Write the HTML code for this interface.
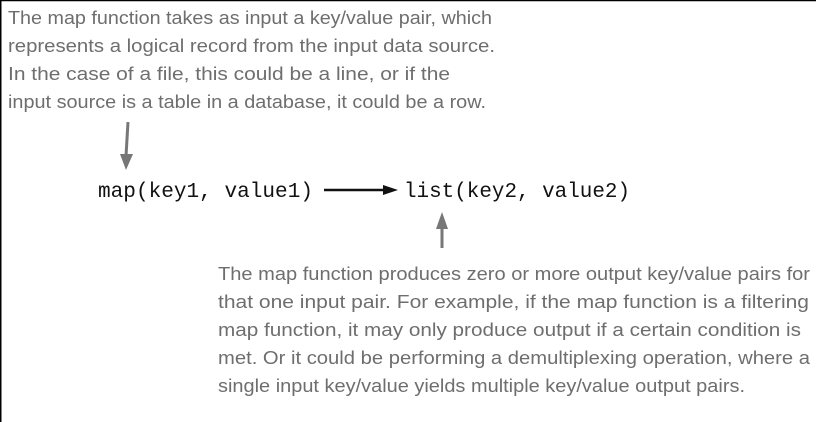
<!DOCTYPE html>
<html><head><style>
html,body{margin:0;padding:0;background:#fff;}
svg{display:block;}
.h{font-family:"Liberation Sans",sans-serif;font-size:18px;fill:#6e6e6e;}
.m{font-family:"Liberation Mono",monospace;font-size:21px;fill:#111;}
</style></head><body>
<svg width="816" height="422" viewBox="0 0 816 422" xmlns="http://www.w3.org/2000/svg">
<line x1="0" y1="0.5" x2="816" y2="0.5" stroke="#000" stroke-width="1.5"/>
<line x1="0.75" y1="0" x2="0.75" y2="422" stroke="#000" stroke-width="1.5"/>
<text class="h" x="8" y="24" textLength="484" lengthAdjust="spacingAndGlyphs">The map function takes as input a key/value pair, which</text>
<text class="h" x="8" y="52" textLength="487" lengthAdjust="spacingAndGlyphs">represents a logical record from the input data source.</text>
<text class="h" x="8" y="80" textLength="442" lengthAdjust="spacingAndGlyphs">In the case of a file, this could be a line, or if the</text>
<text class="h" x="8" y="108" textLength="478" lengthAdjust="spacingAndGlyphs">input source is a table in a database, it could be a row.</text>
<line x1="128" y1="122" x2="126" y2="156" stroke="#777" stroke-width="3"/>
<polygon points="120,154 133,154 126,170" fill="#777"/>
<text class="m" x="98" y="197" textLength="215" lengthAdjust="spacingAndGlyphs">map(key1, value1)</text>
<line x1="324" y1="190" x2="386" y2="190" stroke="#111" stroke-width="2.5"/>
<polygon points="383,185 398,190 383,195" fill="#111"/>
<text class="m" x="404" y="197" textLength="226" lengthAdjust="spacingAndGlyphs">list(key2, value2)</text>
<line x1="442" y1="248" x2="442" y2="226" stroke="#777" stroke-width="3"/>
<polygon points="436,229 448,229 442,212" fill="#777"/>
<text class="h" x="218" y="280" textLength="592" lengthAdjust="spacingAndGlyphs">The map function produces zero or more output key/value pairs for</text>
<text class="h" x="218" y="308" textLength="591" lengthAdjust="spacingAndGlyphs">that one input pair. For example, if the map function is a filtering</text>
<text class="h" x="218" y="336" textLength="583" lengthAdjust="spacingAndGlyphs">map function, it may only produce output if a certain condition is</text>
<text class="h" x="218" y="364" textLength="592" lengthAdjust="spacingAndGlyphs">met. Or it could be performing a demultiplexing operation, where a</text>
<text class="h" x="218" y="392" textLength="527" lengthAdjust="spacingAndGlyphs">single input key/value yields multiple key/value output pairs.</text>
</svg>
</body></html>
